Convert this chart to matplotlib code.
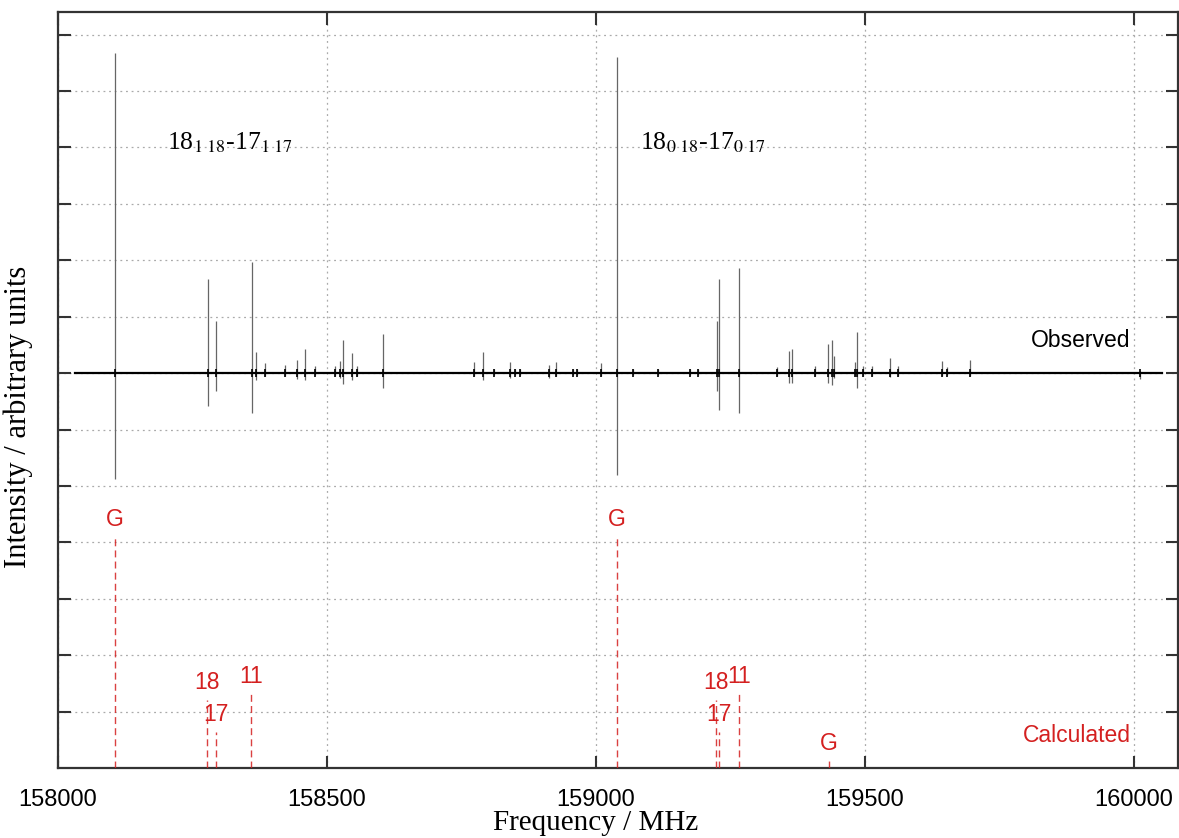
import numpy as np
import matplotlib.pyplot as plt

# observed spectrum: line positions (MHz) and the top / bottom of each spike
# (baseline of the observed trace sits at 7 in axis units)
obs_freq = [158106, 158279, 158294, 158361, 158368, 158385, 158422, 158444,
            158459, 158478, 158515, 158524, 158530, 158546, 158556, 158604,
            158773, 158790, 158810, 158840, 158849, 158859, 158913, 158926,
            158957, 158965, 159009, 159039, 159069, 159115, 159175, 159190,
            159225, 159229, 159266, 159336, 159359, 159364, 159407, 159431,
            159439, 159442, 159481, 159485, 159496, 159513, 159546, 159561,
            159643, 159652, 159695, 160011]
obs_top = [12.67, 8.67, 7.93, 8.96, 7.38, 7.17, 7.15, 7.24,
           7.43, 7.12, 7.13, 7.22, 7.59, 7.35, 7.13, 7.70,
           7.19, 7.38, 7.08, 7.20, 7.08, 7.08, 7.15, 7.19,
           7.08, 7.08, 7.17, 12.60, 7.08, 7.08, 7.08, 7.08,
           7.93, 8.67, 8.87, 7.10, 7.40, 7.43, 7.13, 7.52,
           7.59, 7.31, 7.19, 7.72, 7.13, 7.13, 7.26, 7.13,
           7.22, 7.10, 7.24, 7.04]
obs_bottom = [5.13, 6.42, 6.69, 6.30, 6.87, 6.94, 6.95, 6.90,
              6.87, 6.96, 6.95, 6.92, 6.81, 6.87, 6.95, 6.74,
              6.95, 6.87, 6.96, 6.92, 6.96, 6.96, 6.92, 6.95,
              6.96, 6.96, 6.94, 5.19, 6.96, 6.96, 6.96, 6.96,
              6.69, 6.34, 6.30, 6.95, 6.83, 6.83, 6.95, 6.83,
              6.78, 6.92, 6.94, 6.74, 6.95, 6.95, 6.93, 6.95,
              6.94, 6.96, 6.94, 6.90]
obs_baseline = 7.0
obs_start, obs_end = 158032, 160052

# calculated stick spectrum
calc_freq = [158106, 158277, 158294, 158359, 159039, 159223, 159229, 159266, 159433]
calc_height = [4.09, 1.20, 0.64, 1.31, 4.09, 1.20, 0.64, 1.31, 0.12]
calc_label = ['G', '18', '17', '11', 'G', '18', '17', '11', 'G']

x_ticks = [158000, 158500, 159000, 159500, 160000]

red = '#d42020'
sans = ['Liberation Sans', 'DejaVu Sans']
serif = ['Liberation Serif', 'DejaVu Serif']
plt.rcParams['mathtext.fontset'] = 'stix'


def main():
    fig = plt.figure(figsize=(11.79, 8.38), dpi=100)
    ax = fig.add_axes([0.0492, 0.0835, 0.9500, 0.9022])

    # observed trace: thin grey spikes on a black baseline
    ax.vlines(obs_freq, obs_bottom, obs_top, color='#666666', lw=0.9, zorder=3)
    ax.plot([obs_start, obs_end], [obs_baseline, obs_baseline],
            color='black', lw=1.6, zorder=4)
    ax.vlines(obs_freq, obs_baseline - 0.07, obs_baseline + 0.07,
              color='black', lw=1.2, zorder=5)

    # calculated sticks
    ax.vlines(calc_freq, 0, calc_height, color=red, lw=1.0, alpha=0.85,
              linestyles=(0, (5, 3)), zorder=3)
    for f, h, lab in zip(calc_freq, calc_height, calc_label):
        ax.text(f, h + 0.31, lab, color=red, fontsize=16.5, family=sans,
                ha='center', va='center')

    ax.text(159994, 7.58, 'Observed', fontsize=16.5, family=sans,
            ha='right', va='center')
    ax.text(159994, 0.57, 'Calculated', fontsize=16.5, color=red, family=sans,
            ha='right', va='center')

    ax.text(158203, 10.97, '18$_{1\\ 18}$-17$_{1\\ 17}$', fontsize=18.5,
            family=serif, ha='left', va='baseline')
    ax.text(159082, 10.97, '18$_{0\\ 18}$-17$_{0\\ 17}$', fontsize=18.5,
            family=serif, ha='left', va='baseline')

    ax.set_xlim(158000, 160082)
    ax.set_ylim(0, 13.4)
    ax.set_xticks(x_ticks)
    ax.set_xticklabels([str(t) for t in x_ticks], family=sans, fontsize=17)
    ax.set_yticks(np.arange(1, 14))
    ax.set_yticklabels([])
    ax.tick_params(axis='both', direction='in', length=9, width=1.5,
                   color='#333333', top=True, right=True)
    ax.tick_params(axis='x', pad=15)
    ax.grid(True, linestyle=(0, (1.5, 3)), color='#aaaaaa', lw=0.9)
    for s in ax.spines.values():
        s.set_linewidth(1.6)
        s.set_color('#333333')

    ax.set_xlabel('Frequency / MHz', family=serif, fontsize=21)
    ax.set_ylabel('Intensity / arbitrary units', family=serif, fontsize=22)
    ax.xaxis.set_label_coords(0.480, -0.055)
    ax.xaxis.label.set_verticalalignment('top')
    ax.yaxis.set_label_coords(-0.022, 0.464)

    fig.savefig('out.png', dpi=100)


if __name__ == '__main__':
    main()
